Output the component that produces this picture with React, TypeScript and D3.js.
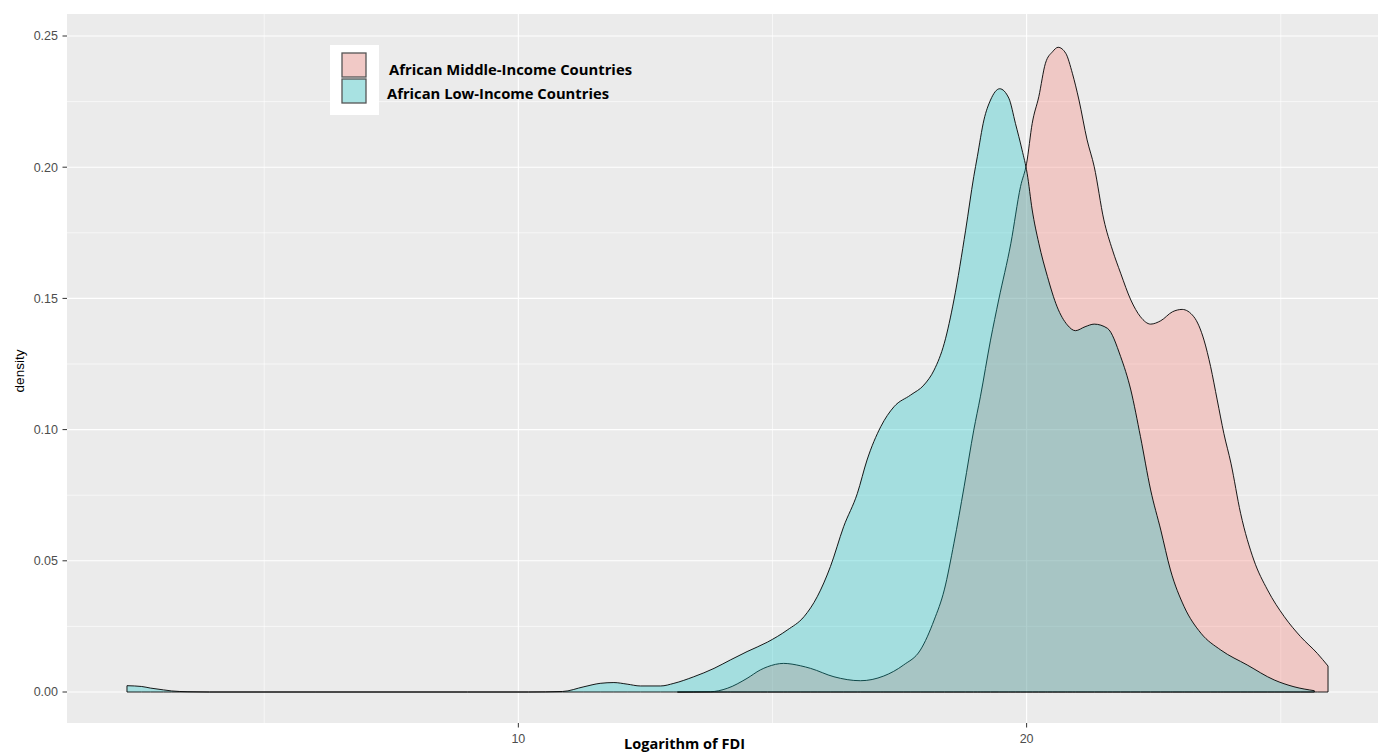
import React from "react";
import * as d3 from "d3";

// ---- data ----
const lowX = [2.30, 2.59, 2.76, 3.02, 3.18, 3.50, 3.92, 6.0, 9.0, 10.2, 10.87, 11.29, 11.61, 11.88, 12.14, 12.40, 12.80, 13.06, 13.45, 13.85, 14.17, 14.50, 14.90, 15.29, 15.62, 15.88, 16.14, 16.40, 16.67, 16.86, 17.13, 17.39, 17.72, 17.98, 18.18, 18.38, 18.57, 18.80, 18.96, 19.03, 19.16, 19.29, 19.47, 19.65, 19.78, 19.91, 20.01, 20.11, 20.24, 20.41, 20.60, 20.80, 20.96, 21.15, 21.33, 21.59, 21.85, 22.05, 22.24, 22.44, 22.64, 22.83, 23.10, 23.43, 23.82, 24.34, 24.87, 25.26, 25.66];
const lowDensity = [0.0024, 0.0021, 0.0015, 0.0008, 0.0004, 0.0001, 0.0, 0.0, 0.0, 0.0, 0.0002, 0.0020, 0.0033, 0.0036, 0.0030, 0.0023, 0.0023, 0.0033, 0.0058, 0.0090, 0.0122, 0.0154, 0.0190, 0.0236, 0.0287, 0.0363, 0.0478, 0.0630, 0.0757, 0.0884, 0.1011, 0.1087, 0.1132, 0.1170, 0.1227, 0.1329, 0.1494, 0.1760, 0.1964, 0.2040, 0.2180, 0.2256, 0.2299, 0.2263, 0.2167, 0.2066, 0.1977, 0.1837, 0.1710, 0.1583, 0.1468, 0.1399, 0.1377, 0.1392, 0.1402, 0.1386, 0.1278, 0.1151, 0.0973, 0.0770, 0.0617, 0.0465, 0.0325, 0.0224, 0.0160, 0.0103, 0.0046, 0.0020, 0.0005];

const midX = [13.13, 13.78, 14.11, 14.50, 14.76, 14.90, 15.22, 15.55, 15.75, 16.21, 16.73, 17.19, 17.58, 17.91, 18.18, 18.38, 18.57, 18.77, 18.96, 19.09, 19.29, 19.45, 19.69, 19.88, 20.00, 20.11, 20.24, 20.37, 20.51, 20.62, 20.77, 20.90, 21.03, 21.19, 21.33, 21.52, 21.69, 21.85, 22.05, 22.24, 22.44, 22.64, 22.87, 23.06, 23.29, 23.49, 23.62, 23.75, 23.88, 24.02, 24.21, 24.47, 24.74, 25.07, 25.39, 25.72, 25.93];
const midDensity = [0.0, 0.0001, 0.0014, 0.0052, 0.0084, 0.0096, 0.0109, 0.0100, 0.0090, 0.0058, 0.0043, 0.0061, 0.0103, 0.0160, 0.0274, 0.0389, 0.0567, 0.0782, 0.0998, 0.1125, 0.1341, 0.1494, 0.1710, 0.1926, 0.2015, 0.2167, 0.2269, 0.2396, 0.2440, 0.2457, 0.2434, 0.2358, 0.2256, 0.2104, 0.2002, 0.1799, 0.1684, 0.1596, 0.1494, 0.1430, 0.1402, 0.1415, 0.1449, 0.1458, 0.1430, 0.1341, 0.1240, 0.1113, 0.0986, 0.0872, 0.0681, 0.0503, 0.0389, 0.0287, 0.0211, 0.0147, 0.0099];

const seriesNames = ["African Middle-Income Countries", "African Low-Income Countries"];
const seriesColors = ["#F8766D", "#00BFC4"];
const legendKeyColors = ["#F1C9C6", "#A8E2E2"];
const xTicks = [10, 20];
const xMinor = [5, 15, 25];
const yTicks = [0, 0.05, 0.1, 0.15, 0.2, 0.25];
const yMinor = [0.025, 0.075, 0.125, 0.175, 0.225];
const xTitle = "Logarithm of FDI";
const yTitle = "density";

export default function App() {
  const W = 1378, H = 754;
  const panel = { left: 67, right: 1388, top: 14, bottom: 723 };
  const x = d3.scaleLinear().domain([1.12, 27.11]).range([panel.left, panel.right]);
  const y = d3.scaleLinear().domain([0, 0.25]).range([692, 36]);

  const area = d3
    .area<[number, number]>()
    .x((d) => x(d[0]))
    .y0(y(0))
    .y1((d) => y(d[1]))
    .curve(d3.curveMonotoneX);

  const mid: [number, number][] = midX.map((v, i) => [v, midDensity[i]]);
  const low: [number, number][] = lowX.map((v, i) => [v, lowDensity[i]]);
  const series = [mid, low];

  const fmtY = d3.format(".2f");
  const legendTextLen = [243, 222];

  return (
    <svg
      width={W}
      height={H}
      style={{ position: "fixed", left: 0, top: 0, background: "#fff" }}
    >
      <defs>
        <clipPath id="pclip">
          <rect x={panel.left} y={panel.top} width={panel.right - panel.left} height={panel.bottom - panel.top} />
        </clipPath>
      </defs>
      <rect x={panel.left} y={panel.top} width={panel.right - panel.left} height={panel.bottom - panel.top} fill="#EBEBEB" />
      <g clipPath="url(#pclip)">
        {yMinor.map((t) => (
          <line key={"ym" + t} x1={panel.left} x2={panel.right} y1={y(t)} y2={y(t)} stroke="#fff" strokeWidth={0.6} />
        ))}
        {xMinor.map((t) => (
          <line key={"xm" + t} x1={x(t)} x2={x(t)} y1={panel.top} y2={panel.bottom} stroke="#fff" strokeWidth={0.6} />
        ))}
        {yTicks.map((t) => (
          <line key={"yM" + t} x1={panel.left} x2={panel.right} y1={y(t)} y2={y(t)} stroke="#fff" strokeWidth={1.1} />
        ))}
        {xTicks.map((t) => (
          <line key={"xM" + t} x1={x(t)} x2={x(t)} y1={panel.top} y2={panel.bottom} stroke="#fff" strokeWidth={1.1} />
        ))}
        {series.map((s, i) => (
          <path
            key={i}
            d={area(s) || ""}
            fill={seriesColors[i]}
            fillOpacity={0.3}
            stroke="#000"
            strokeWidth={0.9}
          />
        ))}
      </g>

      {/* y axis */}
      {yTicks.map((t) => (
        <g key={"yt" + t}>
          <line x1={62.5} x2={panel.left} y1={y(t)} y2={y(t)} stroke="#333" strokeWidth={1} />
          <text x={58} y={y(t)} dy="0.35em" textAnchor="end" fontFamily="Liberation Sans, Arial, sans-serif" fontSize={12.5} fill="#4D4D4D">
            {fmtY(t)}
          </text>
        </g>
      ))}
      {/* x axis */}
      {xTicks.map((t) => (
        <g key={"xt" + t}>
          <line x1={x(t)} x2={x(t)} y1={panel.bottom} y2={panel.bottom + 4.5} stroke="#333" strokeWidth={1} />
          <text x={x(t)} y={743} textAnchor="middle" fontFamily="Liberation Sans, Arial, sans-serif" fontSize={12.5} fill="#4D4D4D">
            {t}
          </text>
        </g>
      ))}
      <text
        transform={`translate(24,371) rotate(-90)`}
        textAnchor="middle"
        fontFamily="Liberation Sans, Arial, sans-serif"
        fontSize={13.5}
        fill="#000"
      >
        {yTitle}
      </text>
      <text
        x={624}
        y={749}
        fontFamily="Open Sans, Lato, sans-serif"
        fontWeight="bold"
        fontSize={13.5}
        fill="#000"
        textLength={121}
        lengthAdjust="spacingAndGlyphs"
      >
        {xTitle}
      </text>

      {/* legend overlay */}
      <rect x={330} y={45} width={49} height={70} fill="#fff" />
      {seriesNames.map((n, i) => (
        <g key={n}>
          <rect x={342} y={53 + i * 26} width={24} height={24} fill={legendKeyColors[i]} stroke="#555" strokeWidth={1.3} />
          <text
            x={i === 0 ? 389 : 387}
            y={75 + i * 23.5}
            fontFamily="Open Sans, Lato, sans-serif"
            fontWeight="bold"
            fontSize={14}
            fill="#000"
            textLength={legendTextLen[i]}
            lengthAdjust="spacingAndGlyphs"
          >
            {n}
          </text>
        </g>
      ))}
    </svg>
  );
}
